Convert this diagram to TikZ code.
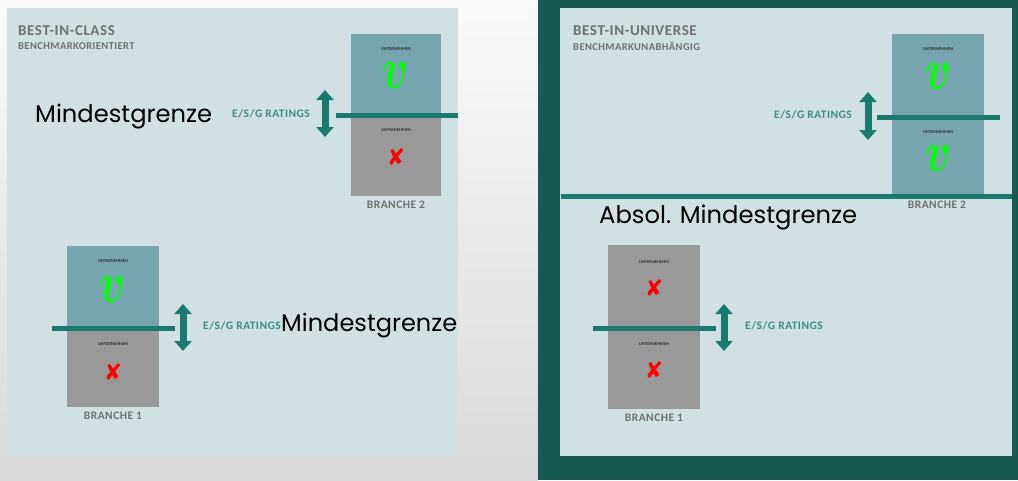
\documentclass[tikz,border=0pt]{standalone}
\usepackage{fontspec}
\usepackage{graphicx}
\setmainfont{Carlito}
\newfontfamily\dejavu{DejaVu Sans}
\newfontfamily\pop{Poppins}
\newfontfamily\carlsp[LetterSpace=4]{Carlito}
\usetikzlibrary{arrows.meta}
\definecolor{panel}{HTML}{D0E0E3}
\definecolor{darkbg}{HTML}{165A51}
\definecolor{boxteal}{HTML}{76A5AF}
\definecolor{boxgray}{HTML}{999999}
\definecolor{lineteal}{HTML}{1B7A6E}
\definecolor{headgray}{HTML}{707070}
\definecolor{vgreen}{HTML}{00FF00}
\tikzset{
  boxt/.style={fill=boxteal, inner sep=0pt, anchor=north west},
  boxg/.style={fill=boxgray, inner sep=0pt, anchor=north west},
  unt/.style={font=\bfseries\fontsize{4.5}{5}\selectfont, text=black!80, inner sep=0pt},
  branch/.style={font=\carlsp\bfseries\fontsize{11.5}{12}\selectfont, text=headgray, inner sep=0pt},
  esg/.style={font=\carlsp\bfseries\fontsize{11.5}{12}\selectfont, text=lineteal!85!white, inner sep=0pt},
  mind/.style={font=\pop, text=black, inner sep=0pt},
  title/.style={font=\carlsp\bfseries\fontsize{15}{16}\selectfont, text=headgray, inner sep=0pt, anchor=west},
  subtitle/.style={font=\carlsp\bfseries\fontsize{10.5}{11}\selectfont, text=headgray, inner sep=0pt, anchor=west},
  limit/.style={draw=lineteal, line width=5pt},
  darr/.style={draw=lineteal, line width=7pt, {Triangle[width=17pt,length=10pt]}-{Triangle[width=17pt,length=10pt]}},
  okmark/.style={text=vgreen, inner sep=0pt},
  nomark/.style={text=red, inner sep=0pt, font=\dejavu},
}
\newcommand{\okv}{\resizebox{26pt}{26pt}{\boldmath$v$}}
\newcommand{\nox}{\resizebox{18pt}{17pt}{\dejavu ✘}}
\begin{document}
\begin{tikzpicture}[x=1pt,y=-1pt]
\useasboundingbox (0,0) rectangle (1018,480);
% backgrounds
\shade[top color=white!98!black, bottom color=white!85!black] (0,0) rectangle (538,480);
\fill[darkbg] (538,0) rectangle (1018,480);
\fill[panel] (7,8) rectangle (458,455);
\fill[panel] (560,8) rectangle (1012,456);

% ===== Left panel =====
\node[title] (t1) at (18,31) {BEST-IN-CLASS};
\node[subtitle] (s1) at (18,46) {BENCHMARKORIENTIERT};

% Branche 2 (left)
\node[boxt, minimum width=90pt, minimum height=81pt] (lb2a) at (351,34) {};
\node[boxg, minimum width=90pt, minimum height=81pt] (lb2b) at (351,115) {};
\node[unt] (lb2u1) at (396,49) {UNTERNEHMEN};
\node[okmark] (lb2v) at (396,75) {\okv};
\node[unt] (lb2u2) at (396,130) {UNTERNEHMEN};
\node[nomark] (lb2x) at (396,157) {\nox};
\node[branch] (lb2n) at (396,205) {BRANCHE 2};
\coordinate (lb2l1) at (336,115);
\coordinate (lb2l2) at (458,115);
\draw[limit] (lb2l1) -- (lb2l2);
\coordinate (lb2a1) at (325,90);
\coordinate (lb2a2) at (325,137);
\draw[darr] (lb2a1) -- (lb2a2);
\node[esg, anchor=east] (lb2e) at (310,114) {E/S/G RATINGS};
\node[mind, anchor=west] (lm1) at (35,117) {\resizebox{177pt}{!}{Mindestgrenze}};

% Branche 1 (left)
\node[boxt, minimum width=92pt, minimum height=82pt] (lb1a) at (67,246) {};
\node[boxg, minimum width=92pt, minimum height=79pt] (lb1b) at (67,328) {};
\node[unt] (lb1u1) at (113,261) {UNTERNEHMEN};
\node[okmark] (lb1v) at (113,289) {\okv};
\node[unt] (lb1u2) at (113,344) {UNTERNEHMEN};
\node[nomark] (lb1x) at (113,372) {\nox};
\node[branch] (lb1n) at (113,416) {BRANCHE 1};
\coordinate (lb1l1) at (52,328);
\coordinate (lb1l2) at (175,328);
\draw[limit] (lb1l1) -- (lb1l2);
\coordinate (lb1a1) at (183,304);
\coordinate (lb1a2) at (183,351);
\draw[darr] (lb1a1) -- (lb1a2);
\node[esg, anchor=west] (lb1e) at (203,326) {E/S/G RATINGS};
\node[mind, anchor=west] (lm2) at (281,326) {\resizebox{176pt}{!}{Mindestgrenze}};

% ===== Right panel =====
\node[title] (t2) at (573,31) {BEST-IN-UNIVERSE};
\node[subtitle] (s2) at (573,46) {BENCHMARKUNABHÄNGIG};

% Branche 2 (right)
\node[boxt, minimum width=92pt, minimum height=161pt] (rb2a) at (892,34) {};
\node[unt] (rb2u1) at (938,49) {UNTERNEHMEN};
\node[okmark] (rb2v) at (938,76) {\okv};
\node[unt] (rb2u2) at (938,132) {UNTERNEHMEN};
\node[okmark] (rb2v2) at (938,158) {\okv};
\node[branch] (rb2n) at (937,205) {BRANCHE 2};
\coordinate (rb2l1) at (877,117);
\coordinate (rb2l2) at (1000,117);
\draw[limit] (rb2l1) -- (rb2l2);
\coordinate (rb2a1) at (868,92);
\coordinate (rb2a2) at (868,140);
\draw[darr] (rb2a1) -- (rb2a2);
\node[esg, anchor=east] (rb2e) at (852,115) {E/S/G RATINGS};

% absolute limit
\coordinate (abs1) at (561,196);
\coordinate (abs2) at (1012,196);
\draw[limit] (abs1) -- (abs2);
\node[mind, anchor=west] (rm) at (599,218) {\resizebox{258pt}{!}{Absol. Mindestgrenze}};

% Branche 1 (right)
\node[boxg, minimum width=92pt, minimum height=164pt] (rb1a) at (608,245) {};
\node[unt] (rb1u1) at (654,262) {UNTERNEHMEN};
\node[nomark] (rb1x1) at (654,288) {\nox};
\node[unt] (rb1u2) at (654,344) {UNTERNEHMEN};
\node[nomark] (rb1x2) at (654,370) {\nox};
\node[branch] (rb1n) at (654,418) {BRANCHE 1};
\coordinate (rb1l1) at (593,328);
\coordinate (rb1l2) at (716,328);
\draw[limit] (rb1l1) -- (rb1l2);
\coordinate (rb1a1) at (724,304);
\coordinate (rb1a2) at (724,351);
\draw[darr] (rb1a1) -- (rb1a2);
\node[esg, anchor=west] (rb1e) at (745,326) {E/S/G RATINGS};
\end{tikzpicture}
\end{document}
